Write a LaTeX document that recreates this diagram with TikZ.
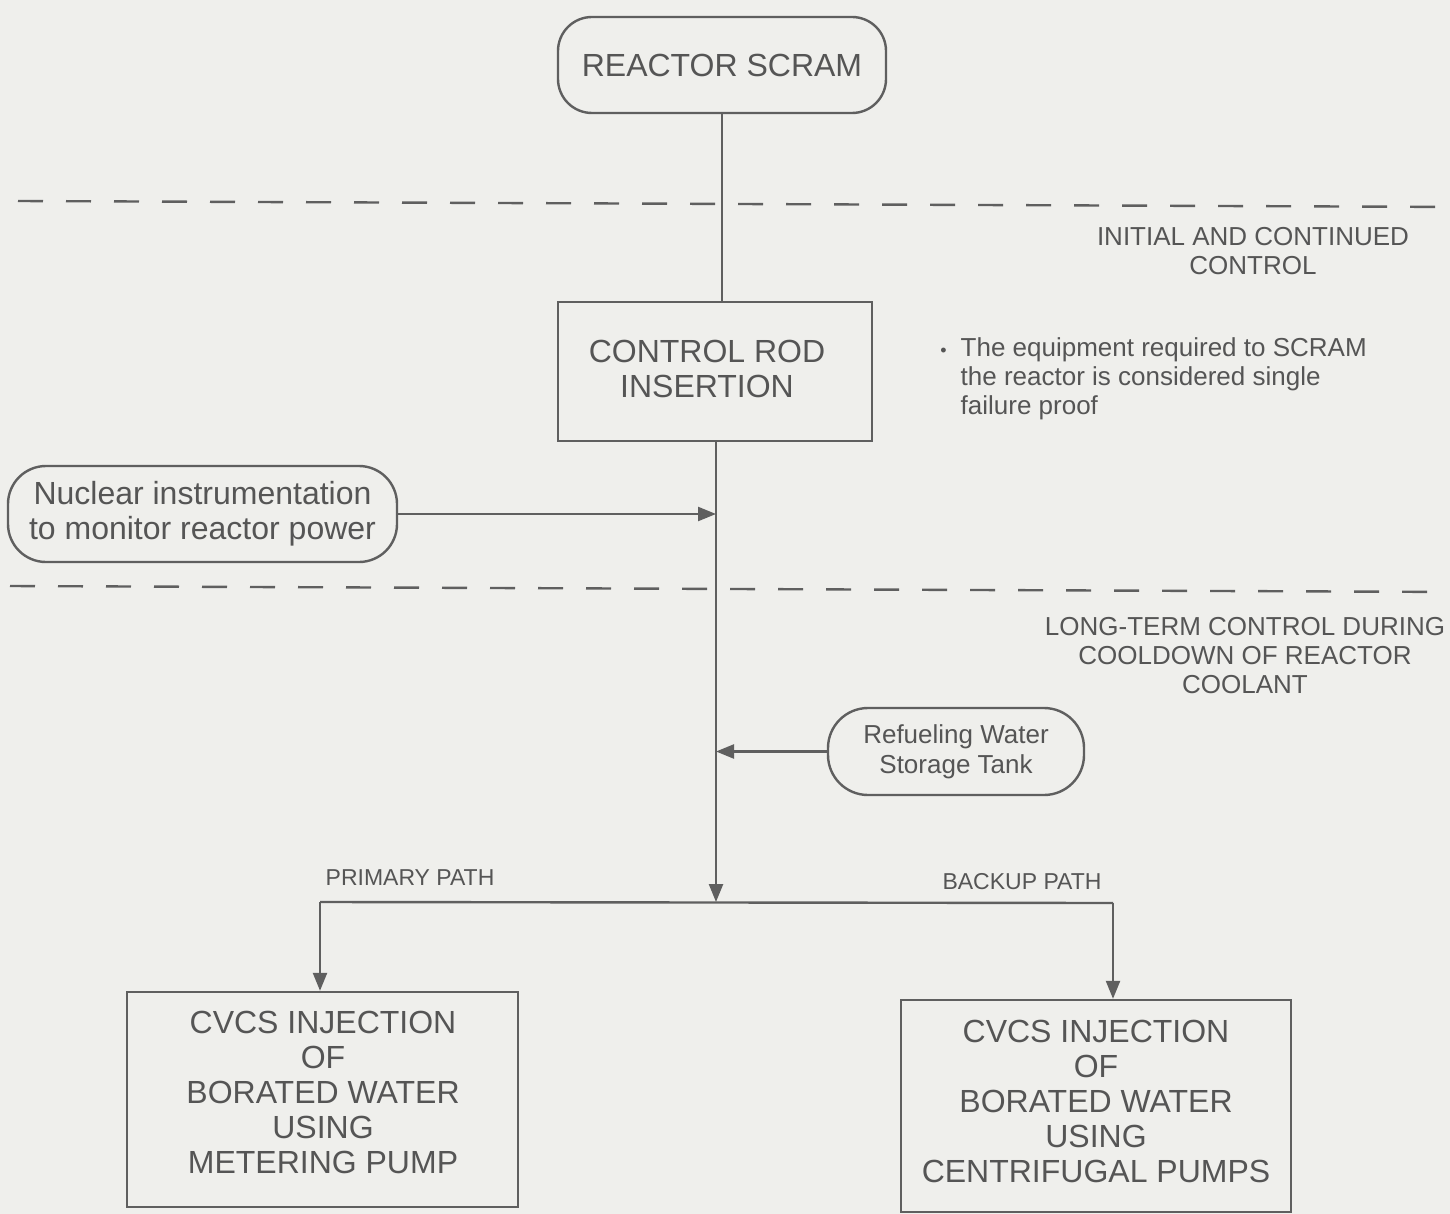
\documentclass[tikz,border=0pt]{standalone}
\usepackage{fontspec}
\setmainfont{Liberation Sans}
\usetikzlibrary{arrows.meta,calc}
\definecolor{bgc}{RGB}{239,239,236}
\definecolor{linec}{RGB}{95,95,95}
\definecolor{textc}{RGB}{85,85,85}
\tikzset{
  base/.style={draw=linec, line width=1.2pt, text=textc, align=center, inner sep=0pt},
  roundbox/.style={base, rounded corners=17pt, font=\fontsize{16}{17.5}\selectfont},
  squarebox/.style={base},
  boxtext/.style={text=textc, align=center, inner sep=0pt, font=\fontsize{16}{17.5}\selectfont},
  smallround/.style={base, rounded corners=20pt, font=\fontsize{13}{15}\selectfont},
  note/.style={text=textc, align=center, inner sep=0pt, font=\fontsize{13}{14.5}\selectfont},
  pathlbl/.style={text=textc, inner sep=0pt, font=\fontsize{11.5}{13}\selectfont},
  conn/.style={draw=linec, line width=1.2pt},
  arr/.style={conn, -{Triangle[length=9pt,width=7pt]}},
  zone/.style={draw=linec, line width=1.2pt, dash pattern=on 12.5pt off 11.5pt}
}
\begin{document}
\begin{tikzpicture}[x=0.5pt,y=-0.5pt]
\useasboundingbox[fill=bgc] (0,0) rectangle (1450,1214);

% zone separators
\draw[zone] (18,201) -- (1462,207);
\draw[zone] (10,586) -- (1462,592);

% nodes
\node[roundbox, minimum width=164pt, minimum height=48pt] (scram) at (722,65) {REACTOR SCRAM};
\node[squarebox, minimum width=157pt, minimum height=69.5pt] (rod) at (715,371.5) {};
\node[boxtext] (rodtext) at (707,369) {CONTROL ROD\\INSERTION};
\node[roundbox, rounded corners=19pt, minimum width=194.5pt, minimum height=48pt] (nuc) at (202.5,514) {Nuclear instrumentation\\to monitor reactor power};
\node[smallround, minimum width=128pt, minimum height=43.5pt] (rwst) at (956,751.5) {Refueling Water\\Storage Tank};
\node[squarebox, minimum width=195.5pt, minimum height=107.5pt] (cvcsa) at (322.5,1099.5) {};
\node[boxtext] (cvcsatext) at (323,1092) {CVCS INJECTION\\OF\\BORATED WATER\\USING\\METERING PUMP};
\node[squarebox, minimum width=195pt, minimum height=106pt] (cvcsb) at (1096,1106) {};
\node[boxtext] (cvcsbtext) at (1096,1101) {CVCS INJECTION\\OF\\BORATED WATER\\USING\\CENTRIFUGAL PUMPS};

% notes
\node[note] (zone1) at (1253,251) {INITIAL AND CONTINUED\\CONTROL};
\node[note] (zone2) at (1245,656) {LONG-TERM CONTROL DURING\\COOLDOWN OF REACTOR\\COOLANT};
\node[note, anchor=west, align=left, font=\fontsize{13}{14.5}\selectfont] (bullet) at (940,380)
  {\begin{tabular}{@{}l@{\hspace{7pt}}l@{}}{\fontsize{9}{14.5}\selectfont\textbullet} & The equipment required to SCRAM\\ & the reactor is considered single\\ & failure proof\end{tabular}};
\node[pathlbl] (plbl) at (410,878) {PRIMARY PATH};
\node[pathlbl] (blbl) at (1022,882) {BACKUP PATH};

% junction coordinates
\coordinate (J) at (716,902);
\coordinate (bl) at (320,902);
\coordinate (br) at (1113,903);

% connectors
\draw[conn] (scram.south) -- (scram.south |- rod.north);
\draw[arr] (rod.south -| J) -- (J);
\draw[arr] (nuc.east) -- (nuc.east -| J);
\draw[arr] (rwst.west) -- (rwst.west -| J);
\draw[conn] (bl) -- (br);
\draw[arr] (bl) -- (bl |- cvcsa.north);
\draw[arr] (br) -- (br |- cvcsb.north);
\end{tikzpicture}
\end{document}
